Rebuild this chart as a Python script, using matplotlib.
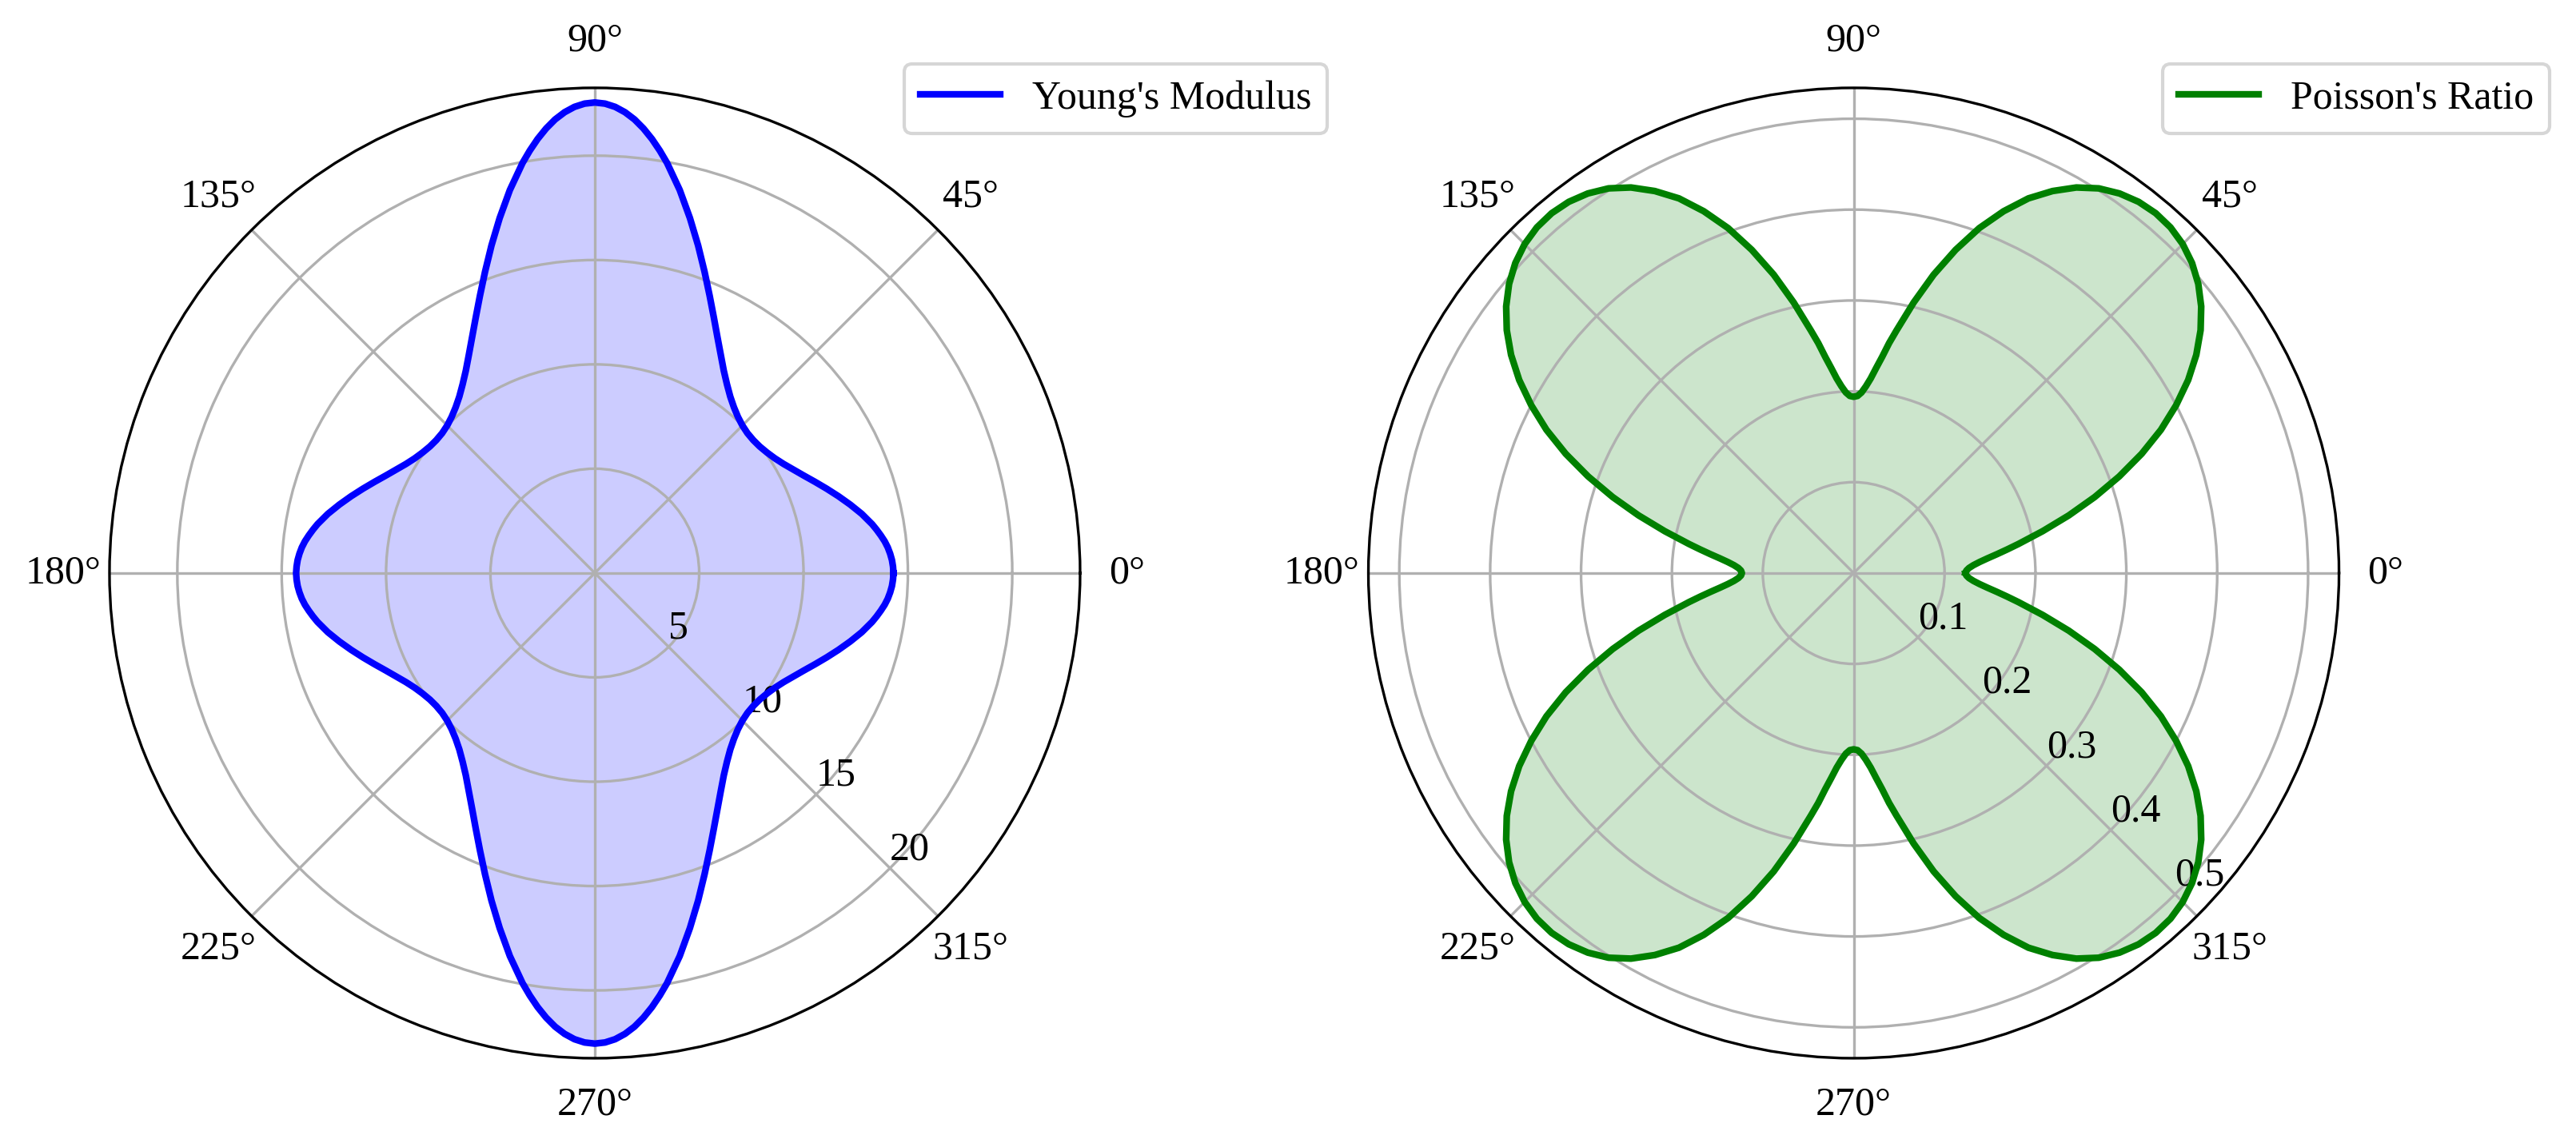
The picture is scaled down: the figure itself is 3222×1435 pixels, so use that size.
import numpy as np
import matplotlib
matplotlib.use("Agg")
import matplotlib.pyplot as plt

plt.rcParams['font.family'] = ['Liberation Serif', 'DejaVu Serif']
plt.rcParams['font.size'] = 12

# angles of the first quadrant where the curves were read (denser near the ends)
quad_deg = [0, 1.25, 2.5, 3.75, 5, 6.25, 7.5, 8.75, 10, 12.5, 15, 17.5, 20,
            22.5, 25, 27.5, 30, 32.5, 35, 37.5, 40, 42.5, 45, 47.5, 50, 52.5,
            55, 57.5, 60, 62.5, 65, 67.5, 70, 72.5, 75, 77.5, 80, 81.25, 82.5,
            83.75, 85, 86.25, 87.5, 88.75, 90]

# Young's modulus
young_q = [14.31, 14.29, 14.25, 14.18, 14.09, 13.97, 13.82, 13.66, 13.49,
           13.10, 12.67, 12.24, 11.82, 11.42, 11.05, 10.73, 10.45, 10.23,
           10.07, 9.96, 9.91, 9.92, 10.00, 10.15, 10.37, 10.66, 11.04, 11.50,
           12.07, 12.73, 13.50, 14.38, 15.37, 16.46, 17.61, 18.80, 19.95,
           20.48, 20.98, 21.43, 21.82, 22.13, 22.36, 22.50, 22.55]

# Poisson's ratio
poisson_q = [0.123, 0.124, 0.127, 0.132, 0.139, 0.148, 0.159, 0.171, 0.184,
             0.213, 0.245, 0.278, 0.311, 0.343, 0.373, 0.400, 0.425, 0.447,
             0.466, 0.482, 0.495, 0.505, 0.512, 0.516, 0.517, 0.515, 0.510,
             0.502, 0.490, 0.474, 0.455, 0.431, 0.404, 0.373, 0.340, 0.305,
             0.271, 0.256, 0.240, 0.227, 0.215, 0.206, 0.199, 0.195, 0.194]

young_ticks = [5, 10, 15, 20]
poisson_ticks = [0.1, 0.2, 0.3, 0.4, 0.5]


def full_circle(q):
    # both curves are mirror symmetric about 0 and 90 deg
    half = list(q) + list(q[-2::-1])
    return np.array(half + half[1:])


half_deg = quad_deg + [180 - a for a in quad_deg[-2::-1]]
all_deg = half_deg + [180 + a for a in half_deg[1:]]
theta = np.deg2rad(all_deg)
young = full_circle(young_q)
poisson = full_circle(poisson_q)

fig = plt.figure(figsize=(3222 / 300, 1435 / 300), dpi=300)
ax1 = fig.add_axes([0.0425, 0.0774, 0.3768, 0.8460], projection='polar')
ax2 = fig.add_axes([0.5312, 0.0774, 0.3768, 0.8460], projection='polar')

ax1.plot(theta, young, color='blue', lw=2, label="Young's Modulus")
ax1.fill(theta, young, color='blue', alpha=0.2)
ax1.set_ylim(0, 23.25)
ax1.set_yticks(young_ticks)

ax2.plot(theta, poisson, color='green', lw=2, label="Poisson's Ratio")
ax2.fill(theta, poisson, color='green', alpha=0.2)
ax2.set_ylim(0, 0.534)
ax2.set_yticks(poisson_ticks)
ax2.set_yticklabels([str(t) for t in poisson_ticks])

for ax in (ax1, ax2):
    ax.set_rlabel_position(-45)
    ax.grid(True)
    ax.legend(loc='upper left', bbox_to_anchor=(0.798, 1.045))

fig.savefig('out.png', dpi=300)
